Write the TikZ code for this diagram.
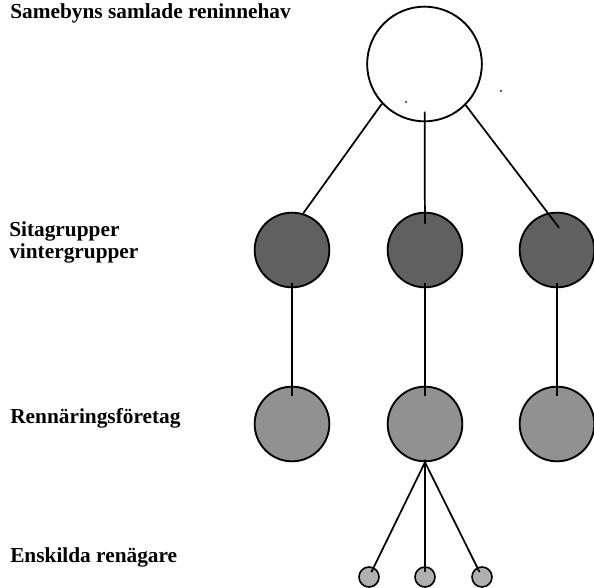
\documentclass[tikz,border=0pt]{standalone}
\usepackage{fontspec}
\setmainfont{Liberation Serif}
\definecolor{herdgrey}{RGB}{96,96,96}
\definecolor{firmgrey}{RGB}{145,145,145}
\definecolor{ownergrey}{RGB}{176,176,176}
\begin{document}
\begin{tikzpicture}[x=0.75pt,y=0.75pt,yscale=-1,xscale=1,
  ring/.style={circle,draw=black,line width=1.4pt,inner sep=0pt},
  lbl/.style={anchor=base west,inner sep=0pt,font=\fontsize{16}{16.5}\selectfont\bfseries},
  link/.style={line width=1.3pt}]
\path[use as bounding box] (0,0) rectangle (594,588);

%Shape: Circle top
\node[ring,fill=white,minimum size=86pt] (herd) at (424.5,64) {};

%Shape: Circles, sita groups
\node[ring,fill=herdgrey,minimum size=56pt] (sitaA) at (292,250) {};
\node[ring,fill=herdgrey,minimum size=56pt] (sitaB) at (425,250) {};
\node[ring,fill=herdgrey,minimum size=56pt] (sitaC) at (557,250) {};

%Shape: Circles, companies
\node[ring,fill=firmgrey,minimum size=56pt] (firmA) at (292,424) {};
\node[ring,fill=firmgrey,minimum size=56pt] (firmB) at (425,424) {};
\node[ring,fill=firmgrey,minimum size=56pt] (firmC) at (557,424) {};

%Shape: Circles, owners
\node[ring,fill=ownergrey,minimum size=15pt,line width=1.2pt] (ownA) at (369,577) {};
\node[ring,fill=ownergrey,minimum size=15pt,line width=1.2pt] (ownB) at (425,577) {};
\node[ring,fill=ownergrey,minimum size=15pt,line width=1.2pt] (ownC) at (482,577) {};

%Straight Lines
\draw[link] (herd.223) -- (sitaA.73) ;
\draw[link,shorten <=-8pt,shorten >=-9pt] (herd) -- (sitaB) ;
\draw[link,shorten >=-14pt] (herd.315) -- (sitaC.104) ;

\draw[link,shorten <=-4pt,shorten >=-8pt] (sitaA) -- (firmA) ;
\draw[link,shorten <=-4pt,shorten >=-8pt] (sitaB) -- (firmB) ;
\draw[link,shorten <=-4pt,shorten >=-8pt] (sitaC) -- (firmC) ;

\draw[link,shorten <=-2pt,shorten >=-4pt] (firmB.south) -- (ownA) ;
\draw[link,shorten <=-2pt,shorten >=-4pt] (firmB.south) -- (ownB) ;
\draw[link,shorten <=-2pt,shorten >=-4pt] (firmB.south) -- (ownC) ;

%Specks
\fill (406,102) circle (1) ;
\fill (501,91) circle (1) ;

% Text Node
\node[lbl] (tHerd) at (10,19) {Samebyns samlade reninnehav};
% Text Node
\node[lbl,align=left] (tSita) at (9,259) {Sitagrupper\\vintergrupper};
% Text Node
\node[lbl] (tFirm) at (10,424) {Rennäringsföretag};
% Text Node
\node[lbl] (tOwn) at (10,563) {Enskilda renägare};

\end{tikzpicture}
\end{document}
